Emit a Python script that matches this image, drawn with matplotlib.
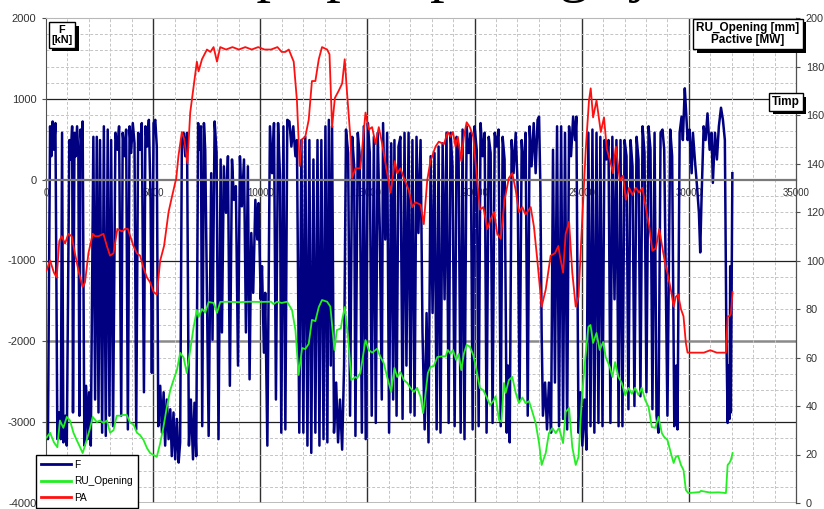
import matplotlib
matplotlib.use('Agg')
import matplotlib.pyplot as plt
import matplotlib.patheffects as pe
import numpy as np

plt.rcParams['font.family'] = ['Liberation Sans', 'DejaVu Sans']
plt.rcParams['axes.unicode_minus'] = False

# ---------------- data ----------------
# F [kN], left axis (time in s, value in kN) - turning points of the signal
t_f = [30, 90, 190, 250, 310, 370, 440, 530, 610, 690, 750, 810, 900, 970, 1090, 1150, 1220, 1260,
       1330, 1390, 1450, 1510, 1560, 1610, 1670, 1710, 1790, 1870, 1950, 2010, 2090, 2210, 2290, 2370,
       2450, 2520, 2620, 2700, 2790, 2880, 2960, 3040, 3130, 3240, 3340, 3410, 3510, 3580, 3680, 3740,
       3820, 3900, 3970, 4050, 4130, 4210, 4300, 4390, 4470, 4570, 4640, 4720, 4800, 4880, 4940, 5020,
       5100, 5170, 5240, 5330, 5410, 5490, 5560, 5640, 5720, 5800, 5870, 5950, 6030, 6110, 6190, 6260,
       6340, 6420, 6500, 6580, 6670, 6760, 6860, 6930, 7010, 7100, 7150, 7230, 7290, 7370, 7430, 7590,
       7710, 7770, 7870, 7960, 8050, 8150, 8210, 8300, 8400, 8490, 8580, 8680, 8770, 8860, 8960, 9050,
       9140, 9240, 9330, 9420, 9500, 9580, 9670, 9770, 9860, 9920, 10020, 10080, 10170, 10230, 10330,
       10450, 10550, 10640, 10730, 10830, 10920, 10980, 11080, 11170, 11260, 11360, 11450, 11540, 11640,
       11710, 11820, 11920, 12010, 12100, 12200, 12290, 12380, 12480, 12570, 12670, 12760, 12850, 12950,
       13040, 13130, 13200, 13290, 13350, 13440, 13540, 13630, 13720, 13820, 13910, 14000, 14100, 14190,
       14290, 14380, 14440, 14550, 14640, 14740, 14830, 14920, 15020, 15110, 15200, 15300, 15390, 15480,
       15580, 15670, 15730, 15830, 15920, 16010, 16110, 16200, 16260, 16360, 16450, 16540, 16640, 16730,
       16820, 16920, 17010, 17100, 17200, 17290, 17380, 17480, 17570, 17670, 17760, 17850, 17950, 18040,
       18130, 18230, 18320, 18410, 18510, 18600, 18690, 18790, 18880, 18970, 19070, 19160, 19250, 19350,
       19440, 19530, 19630, 19720, 19820, 19910, 20000, 20100, 20190, 20280, 20380, 20470, 20560, 20660,
       20750, 20840, 20940, 21030, 21120, 21220, 21310, 21400, 21500, 21560, 21640, 21730, 21820, 21920,
       22010, 22100, 22200, 22290, 22380, 22480, 22570, 22660, 22760, 22850, 22940, 23010, 23070, 23130,
       23190, 23290, 23380, 23470, 23570, 23660, 23750, 23850, 23940, 24040, 24130, 24220, 24320, 24410,
       24500, 24600, 24690, 24750, 24850, 24940, 25030, 25130, 25220, 25310, 25410, 25500, 25590, 25690,
       25780, 25870, 25970, 26060, 26150, 26250, 26340, 26430, 26530, 26620, 26720, 26810, 26900, 27000,
       27090, 27180, 27280, 27370, 27460, 27560, 27650, 27740, 27840, 27930, 28020, 28120, 28210, 28300,
       28400, 28490, 28580, 28680, 28770, 28850, 29000, 29130, 29220, 29320, 29410, 29470, 29570, 29660,
       29720, 29810, 29880, 29940, 30030, 30130, 30190, 30280, 30380, 30470, 30530, 30590, 30690, 30780,
       30870, 30970, 31060, 31120, 31220, 31310, 31400, 31500, 31590, 31680, 31750, 31810, 31860, 31900,
       31930, 31960, 32030]
f_kn = [-2630, -3210, 660, 290, 720, 370, 700, -3210, -2880, -3210, 580, -3250, -2920, -3290, 490, 250,
        660, -2880, 580, 290, 660, 290, -2920, 620, 410, 720, -3290, -2550, -3210, -2630, -3290, 530,
        -2720, 530, -2880, 490, -3130, 660, -3170, 620, -2920, 490, -3050, 580, 370, 660, -2920, 580,
        290, 620, -3090, 660, 330, 700, 450, -3090, 580, 370, 700, -2630, 660, 410, 740, -250, -2390,
        700, 740, 410, -3050, -2550, -3130, -2630, -3290, -2720, -3210, -2840, -3420, -2880, -3460,
        -2960, -3500, -3250, 490, 580, 290, 580, -3290, -2720, -3460, -2760, -3420, 700, 370, 660,
        -3050, 700, 370, -3170, 80, -1980, 720, 330, -3210, 250, -1890, 165, -410, 290, -2550, 250,
        -250, -80, -2300, 290, -330, 250, -1890, 165, -2470, -660, -1400, -250, -740, -290, -1480,
        -1070, -2140, -1400, -3290, 660, 80, 700, -2720, 700, 40, -3130, 660, -3090, 740, 720, 410,
        660, 290, 490, -3130, 490, -3130, 530, -3290, 490, -3380, 250, -3130, 490, -3290, 490, -3210,
        660, -3250, 740, -2300, 660, -3130, -2510, -3250, -2720, -3340, -2300, 620, 330, -2920, 530,
        165, -3170, 580, 290, -3130, 660, -3210, 700, 330, -2920, 530, -3010, 580, -660, -2720, 700,
        -740, 580, -3130, 450, -2720, 490, -2920, 410, 530, -2960, 580, -2300, 580, -2880, 490, -2920,
        530, -660, 490, -1890, -3090, -1650, -3250, 290, -1650, 330, -3090, 410, -3130, 450, -1480,
        580, -3010, 580, 165, -3050, 530, 410, -3130, 620, -3210, 660, 330, 580, -3090, 660, 370,
        -3050, 700, 290, 580, -3130, 530, 330, -3010, 580, 410, 620, -3050, 530, 250, -3130, -2300,
        -3250, 490, 80, 580, -80, -2720, 490, 0, 580, -2920, 660, 165, 700, 80, 740, 780, -80, -1890,
        -2920, -2510, -3090, -2510, -3130, 370, -2510, 660, -3050, 660, -2960, 580, -3090, 660, 290,
        780, 490, 780, -3130, -2630, -3290, -2720, -3340, 580, -3050, 620, -3130, 580, -3010, 530,
        -3050, 490, 250, 490, -3010, 530, -1480, 490, -3050, 490, -3050, 490, 290, -2840, 490, 165,
        -2800, 530, 250, -2680, 660, 330, -2630, 660, 370, -2840, 580, -2920, -3130, 580, 620, 370,
        -2920, 620, 290, -3050, -2300, -3090, 580, 780, 490, 1130, 800, 490, 620, 80, 580, 250, -80,
        -410, -900, -250, 660, 490, 820, 370, 580, -40, 580, 250, 660, 890, 740, 490, -1890, -3010,
        -2300, -2960, -1070, -2880, 80]

# PA [MW], right axis
t_pa = [30, 190, 370, 500, 620, 730, 890, 1040, 1200, 1350, 1510, 1710, 1820, 1980, 2180, 2290, 2450,
        2680, 2840, 2990, 3150, 3330, 3540, 3690, 3820, 3930, 4080, 4240, 4390, 4550, 4710, 4860, 5020,
        5170, 5330, 5510, 5720, 5870, 6080, 6180, 6340, 6450, 6600, 6730, 6890, 7040, 7120, 7280, 7510,
        7670, 7820, 7980, 8130, 8400, 8700, 9000, 9300, 9600, 9900, 10200, 10500, 10800, 11000, 11170,
        11330, 11560, 11710, 11840, 11950, 12100, 12260, 12410, 12570, 12730, 12880, 13120, 13230,
        13350, 13480, 13660, 13820, 13940, 14050, 14210, 14280, 14440, 14520, 14670, 14910, 15060,
        15220, 15380, 15530, 15690, 15920, 16080, 16280, 16390, 16540, 16700, 16930, 17090, 17240,
        17480, 17630, 17790, 17940, 18180, 18330, 18570, 18750, 18880, 18990, 19110, 19220, 19380,
        19500, 19630, 19780, 19940, 20090, 20250, 20410, 20590, 20750, 20910, 21060, 21220, 21400,
        21600, 21760, 21920, 22070, 22230, 22380, 22620, 22770, 22930, 23130, 23320, 23550, 23750,
        23910, 23980, 24130, 24250, 24410, 24560, 24720, 24850, 25030, 25190, 25340, 25420, 25530,
        25690, 25890, 26040, 26170, 26360, 26460, 26590, 26780, 26930, 27060, 27210, 27370, 27520,
        27680, 27830, 27990, 28150, 28300, 28460, 28620, 28770, 28930, 29000, 29160, 29290, 29390,
        29500, 29630, 29750, 29860, 29940, 30300, 30700, 31000, 31300, 31730, 31810, 31890, 31960,
        32040]
pa_mw = [96, 100, 95, 93, 108, 110, 107, 111, 110, 103, 96, 89, 91, 103, 111, 110, 110, 111, 106, 102,
         103, 113, 112, 113, 113, 110, 106, 103, 102, 97, 93, 91, 87, 86, 100, 106, 120, 126, 134, 143,
         153, 150, 140, 161, 172, 182, 178, 183, 187, 186, 188, 182, 188, 187, 188, 187, 188, 187, 188,
         187, 187, 188, 186, 186, 187, 182, 166, 139, 150, 151, 158, 174, 174, 183, 188, 187, 185, 155,
         167, 170, 173, 183, 169, 150, 134, 138, 138, 138, 161, 154, 155, 148, 155, 148, 136, 128, 141,
         136, 138, 134, 129, 122, 124, 123, 115, 133, 141, 147, 149, 148, 153, 151, 153, 147, 151, 141,
         151, 157, 155, 151, 136, 121, 122, 113, 117, 120, 111, 109, 125, 134, 136, 129, 120, 122, 119,
         122, 114, 100, 81, 88, 102, 103, 106, 102, 95, 111, 116, 95, 81, 85, 118, 146, 166, 171, 159,
         166, 153, 159, 146, 140, 136, 147, 133, 135, 125, 130, 127, 130, 128, 130, 122, 114, 104, 105,
         113, 105, 97, 95, 88, 81, 85, 86, 80, 77, 66, 62, 62, 62, 63, 62, 62, 77, 77, 78, 87]

# RU_Opening [mm], right axis
t_ru = [30, 190, 370, 530, 650, 810, 970, 1120, 1280, 1430, 1590, 1710, 1900, 2060, 2180, 2370, 2520,
        2680, 2840, 2990, 3150, 3300, 3460, 3610, 3770, 3930, 4080, 4240, 4390, 4550, 4710, 4860, 5020,
        5170, 5330, 5480, 5640, 5800, 5950, 6110, 6260, 6420, 6570, 6730, 6890, 7040, 7120, 7280, 7430,
        7590, 7820, 7980, 8130, 8500, 9000, 9500, 10000, 10500, 10620, 10780, 11000, 11250, 11480,
        11640, 11790, 11950, 12100, 12260, 12410, 12570, 12730, 12880, 13120, 13270, 13460, 13570,
        13760, 13820, 13940, 14100, 14250, 14440, 14520, 14670, 14910, 15060, 15220, 15450, 15610,
        15760, 15920, 16110, 16260, 16390, 16540, 16700, 16860, 17010, 17170, 17320, 17480, 17600,
        17710, 17820, 17940, 18100, 18260, 18490, 18650, 18750, 18880, 18990, 19140, 19260, 19380,
        19500, 19630, 19780, 19940, 20090, 20250, 20410, 20560, 20720, 20870, 20980, 21140, 21250,
        21370, 21450, 21600, 21760, 21920, 22070, 22230, 22380, 22540, 22700, 22850, 23010, 23130,
        23320, 23470, 23630, 23790, 23940, 24130, 24250, 24410, 24560, 24720, 24850, 25000, 25160,
        25310, 25410, 25530, 25690, 25840, 26000, 26120, 26310, 26430, 26560, 26710, 26870, 27030,
        27180, 27340, 27490, 27650, 27800, 27960, 28120, 28270, 28430, 28580, 28740, 28850, 29000,
        29160, 29290, 29390, 29500, 29630, 29750, 29860, 29970, 30500, 30560, 31000, 31400, 31730,
        31810, 31890, 31960, 32040]
ru_mm = [27, 29, 25, 23, 34, 31, 35.5, 34, 29, 26, 23, 20.6, 26, 31, 35.5, 33.4, 34, 33, 34, 29, 30,
         36, 36, 36.3, 36.3, 33, 32.5, 29, 28, 26, 22.7, 20.6, 19.8, 19, 24.7, 31.3, 39.6, 46.6, 50.7,
         54.8, 61.9, 60, 53.6, 63.1, 72.6, 79.6, 76.7, 80, 78.5, 82.9, 82.5, 78.4, 82.9, 83, 82.8, 83,
         82.9, 83, 82, 83, 82.5, 83, 79.6, 71.3, 52.8, 63.9, 63.5, 65.6, 75.5, 75, 80.8, 83.7, 83, 81,
         63.1, 71.3, 72, 75.5, 80.8, 68, 50.7, 52, 51.5, 53.6, 67.2, 63.1, 62, 63.6, 60.2, 57.7, 52,
         45.8, 55.7, 52, 54, 50.7, 49.5, 47.4, 45.8, 47.5, 43.7, 37.1, 45, 53.6, 56.1, 56.5, 60.2,
         60.5, 60.5, 63.1, 61.5, 63.1, 59, 61.5, 54.8, 61.5, 65.2, 64.5, 61, 54.8, 47.4, 46.5, 43.7,
         40.4, 42, 44, 34.2, 33.5, 49.5, 45.4, 50.7, 52, 45.4, 41.2, 43.5, 41.2, 42, 37.5, 33, 24.7,
         15.7, 20.6, 28.8, 30.9, 28.8, 31, 24.7, 37.5, 39.2, 23.1, 15.7, 19, 42.5, 59, 72.6, 73.4, 66,
         70.1, 63.1, 66.4, 60.2, 56.1, 52, 58.1, 52, 49.5, 44.5, 47.5, 45, 47.5, 44.5, 47.5, 42.5,
         39.6, 31.3, 31, 35.5, 28.8, 27.2, 26, 20.6, 16.5, 19, 19.5, 15.7, 13.6, 5.4, 4.1, 4.5, 5, 4.3,
         4.4, 4.1, 15.7, 16.5, 17.7, 20.6]

x_ticks = np.arange(0, 35001, 5000)
f_ticks = np.arange(-4000, 2001, 1000)
right_ticks = np.arange(0, 201, 20)

# ---------------- figure ----------------
W, H = 824, 509
fig = plt.figure(figsize=(W / 100, H / 100), dpi=100)
ax = fig.add_axes([46 / W, 6 / H, 750 / W, 485 / H])

ax.set_xlim(0, 35000)
ax.set_ylim(-4000, 2000)

# dashed minor grid
ax.set_xticks(np.arange(0, 35001, 1000), minor=True)
ax.set_yticks(np.arange(-4000, 2001, 200), minor=True)
ax.grid(which='minor', color='#c4c4c4', linestyle=(0, (3, 2)), linewidth=0.7, zorder=0)
ax.tick_params(which='minor', length=0)

# solid major lines
for xv in x_ticks[1:-1]:
    ax.axvline(xv, color='#303030', linewidth=1.0, zorder=0.5)
for yv in [1000, -1000, -3000]:
    ax.axhline(yv, color='#202020', linewidth=0.9, zorder=0.5)
ax.axhline(-2000, color='#8a8a8a', linewidth=1.8, zorder=0.5)
ax.axhline(-4000, color='#b0b0b0', linewidth=1.2, zorder=0.5)

# x axis crossing at F = 0
ax.spines['bottom'].set_position(('data', 0))
ax.spines['bottom'].set_color('#7a7a7a')
ax.spines['bottom'].set_linewidth(1.6)
ax.spines['top'].set_color('#b8b8b8')
ax.spines['left'].set_color('#505050')
ax.set_xticks(x_ticks)
ax.set_xticklabels([str(v) for v in x_ticks])
ax.tick_params(axis='x', which='major', length=0, pad=6, labelsize=7, labelcolor='#333333')

ax.set_yticks(f_ticks)
ax.set_yticklabels([str(v) for v in f_ticks])
ax.tick_params(axis='y', which='major', direction='out', length=3, pad=4, labelsize=8,
               labelcolor='#333333', color='#505050')

line_f, = ax.plot(t_f, f_kn, color='#000080', linewidth=1.8, zorder=2)

ax2 = ax.twinx()
ax2.set_ylim(0, 200)
ax2.set_yticks(right_ticks)
ax2.set_yticklabels([str(v) for v in right_ticks])
ax2.tick_params(axis='y', direction='out', length=3, pad=4, labelsize=7.8,
                labelcolor='#333333', color='#505050')
for s in ['top', 'bottom', 'left']:
    ax2.spines[s].set_visible(False)
ax2.spines['right'].set_color('#505050')

line_ru, = ax2.plot(t_ru, ru_mm, color='#22ee22', linewidth=1.3)
line_pa, = ax2.plot(t_pa, pa_mw, color='#ff1010', linewidth=1.3)

# boxed axis titles with shadow
def boxed(x, y, s, size):
    t = fig.text(x / W, 1 - y / H, s, ha='center', va='center', fontsize=size, fontweight='bold',
                 linespacing=1.05, zorder=10,
                 bbox=dict(boxstyle='square,pad=0.25', fc='white', ec='black', lw=1))
    t.get_bbox_patch().set_path_effects([pe.withSimplePatchShadow(offset=(2.5, -2.5),
                                                                  shadow_rgbFace='black', alpha=1)])
    return t

boxed(62, 35, 'F\n[kN]', 7.8)
boxed(748, 34, 'RU_Opening [mm]\nPactive [MW]', 8.5)
boxed(786, 102, 'Timp', 8.5)

# title, cut off by the top edge: only the descenders stay in the picture
fig.text(25 / W, 1 + 9 / H, 'Incercare pe pompa, reglaj', ha='left', va='baseline',
         fontsize=42, family='Liberation Serif')

leg = fig.legend([line_f, line_ru, line_pa], ['F', 'RU_Opening', 'PA'], loc='lower left',
                 bbox_to_anchor=(36 / W, 1 / H), fontsize=7.3, fancybox=False, framealpha=1,
                 edgecolor='black', handlelength=3.0, handletextpad=0.3, borderpad=0.5,
                 labelspacing=0.65, borderaxespad=0)
leg.get_frame().set_linewidth(1)
for h in leg.legend_handles:
    h.set_linewidth(2)

fig.savefig('out.png', dpi=100)
